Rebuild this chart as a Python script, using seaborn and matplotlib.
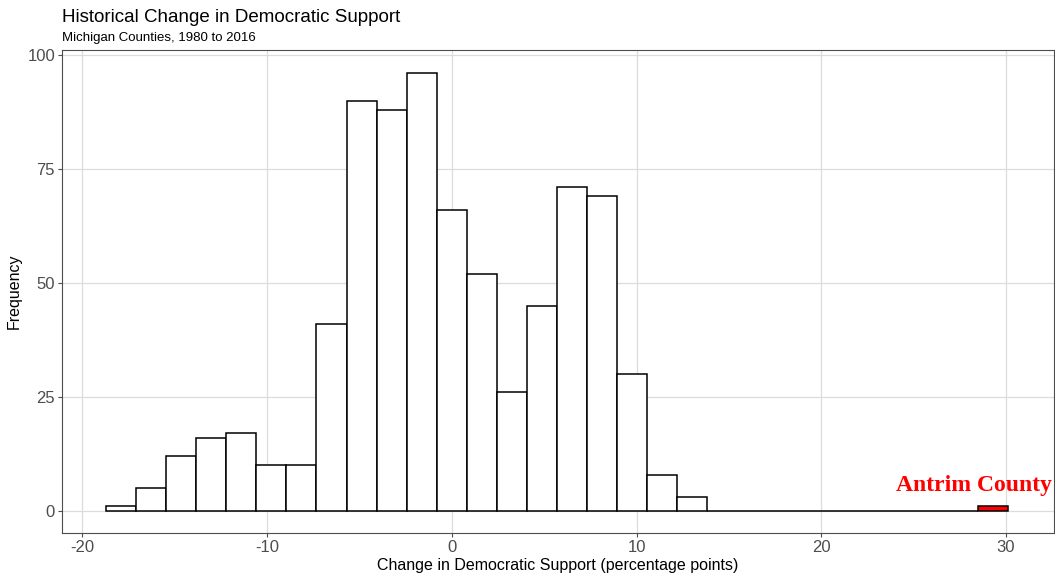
import numpy as np
import pandas as pd
import matplotlib
matplotlib.use("Agg")
import matplotlib.pyplot as plt
import seaborn as sns

# ==============================================================================
# DATA (bin counts, 30 bins)
# ==============================================================================
BIN_START = -18.72
BIN_END = 30.12
N_BINS = 30
counts = [1, 5, 12, 16, 17, 10, 10, 41, 90, 88, 96, 66, 52, 26, 45,
          71, 69, 30, 8, 3, 0, 0, 0, 0, 0, 0, 0, 0, 0, 1]
highlight_bin = 29          # Antrim County
highlight_label = "Antrim County"

# ==============================================================================
# PLOT
# ==============================================================================
binwidth = (BIN_END - BIN_START) / N_BINS
edges = BIN_START + binwidth * np.arange(N_BINS + 1)
centers = (edges[:-1] + edges[1:]) / 2
df = pd.DataFrame({"change": centers, "n": counts})
df["antrim"] = df.index == highlight_bin

sns.set_theme(style="whitegrid")
plt.rcParams['font.family'] = ['Liberation Sans', 'DejaVu Sans']
plt.rcParams['axes.unicode_minus'] = False

fig = plt.figure(figsize=(10.55, 5.76), dpi=100)
ax = fig.add_axes([62 / 1055, 43 / 576, 992 / 1055, 483 / 576])

rest = df[~df["antrim"]]
sns.histplot(data=rest, x="change", weights="n", binwidth=binwidth,
             binrange=(BIN_START, edges[highlight_bin]),
             color="white", edgecolor="black", linewidth=1.1, alpha=1, ax=ax)
hi = df[df["antrim"]]
sns.histplot(data=hi, x="change", weights="n", binwidth=binwidth,
             binrange=(edges[highlight_bin], BIN_END),
             color="#ff0000", edgecolor="black", linewidth=1.1, alpha=1, ax=ax)

ax.text(centers[highlight_bin] - 1.05, 5.6, highlight_label, color="#ff0000",
        fontsize=17, fontweight="bold", family=["Liberation Serif", "DejaVu Serif"],
        ha="center", va="center")

ax.set_xlim(-21.1, 32.6)
ax.set_ylim(-4.82, 101.1)
ax.set_xticks([-20, -10, 0, 10, 20, 30])
ax.set_yticks([0, 25, 50, 75, 100])
ax.grid(True, which="major", color="#dcdcdc", linewidth=0.9)
ax.set_axisbelow(True)
for s in ax.spines.values():
    s.set_color("#4d4d4d")
    s.set_linewidth(0.8)

ax.tick_params(axis="both", which="major", labelsize=12, labelcolor="#4d4d4d",
               length=3, width=0.8, color="#4d4d4d", bottom=True, left=True, pad=2)
ax.set_xlabel("Change in Democratic Support (percentage points)", fontsize=11.5,
              color="black", labelpad=2)
ax.set_ylabel("Frequency", fontsize=11.5, color="black", labelpad=4)

fig.text(62 / 1055, 1 - 17 / 576, "Historical Change in Democratic Support",
         fontsize=13.5, color="black", va="center", ha="left")
fig.text(62 / 1055, 1 - 38 / 576, "Michigan Counties, 1980 to 2016",
         fontsize=9.5, color="black", va="center", ha="left")

fig.savefig("out.png", dpi=100)
